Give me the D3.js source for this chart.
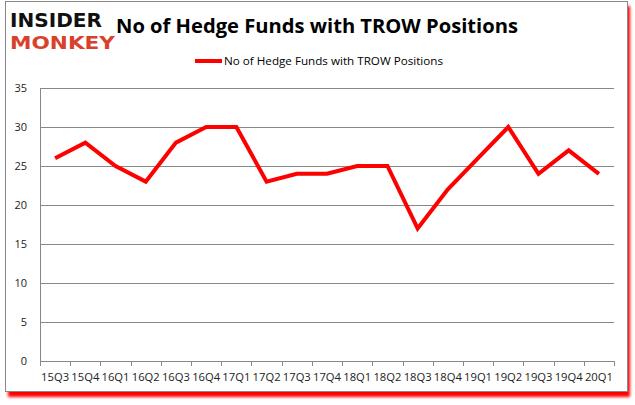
<!DOCTYPE html>
<html>
<head>
<meta charset="utf-8">
<script src="https://cdn.jsdelivr.net/npm/d3@7"></script>
<style>
  body { margin: 0; background: #fff; }
  svg { display: block; }
</style>
</head>
<body>
<div id="chart"></div>
<script>
// quarters on the x axis
var quarters = ["15Q3", "15Q4", "16Q1", "16Q2", "16Q3", "16Q4", "17Q1", "17Q2", "17Q3", "17Q4",
                "18Q1", "18Q2", "18Q3", "18Q4", "19Q1", "19Q2", "19Q3", "19Q4", "20Q1"];
// number of hedge funds per quarter
var fundCounts = [26, 28, 25, 23, 28, 30, 30, 23, 24, 24, 25, 25, 17, 22, 26, 30, 24, 27, 24];
var yTicks = [0, 5, 10, 15, 20, 25, 30, 35];

var seriesName = "No of Hedge Funds with TROW Positions";
var titleText = "No of Hedge Funds with TROW Positions";

var W = 635, H = 405;
var margin = {top: 88, right: 21, bottom: 44, left: 40},
    width = W - margin.left - margin.right,
    height = H - margin.top - margin.bottom;

var svg = d3.select("#chart").append("svg")
    .attr("width", W)
    .attr("height", H);

// red shadow behind the frame
var defs = svg.append("defs");
var blur = defs.append("filter").attr("id", "shadow")
    .attr("x", "-5%").attr("y", "-5%").attr("width", "110%").attr("height", "115%");
blur.append("feGaussianBlur").attr("stdDeviation", 1.6);

svg.append("rect")
    .attr("x", 8).attr("y", 6).attr("width", 622).attr("height", 391)
    .attr("fill", "#ff0000")
    .attr("filter", "url(#shadow)");
svg.append("rect")
    .attr("x", 5.5).attr("y", 1.5).attr("width", 622).attr("height", 390)
    .attr("fill", "#fff")
    .attr("stroke", "#888")
    .attr("stroke-width", 1);

// logo
svg.append("text")
    .attr("x", 10).attr("y", 27)
    .attr("textLength", 92).attr("lengthAdjust", "spacingAndGlyphs")
    .style("font-family", "'DejaVu Sans', sans-serif")
    .style("font-weight", "bold")
    .style("font-size", "19px")
    .attr("fill", "#111")
    .text("INSIDER");
svg.append("text")
    .attr("x", 10).attr("y", 49)
    .attr("textLength", 105).attr("lengthAdjust", "spacingAndGlyphs")
    .style("font-family", "'DejaVu Sans', sans-serif")
    .style("font-weight", "bold")
    .style("font-size", "18px")
    .attr("fill", "#d8412c")
    .text("MONKEY");

// title
svg.append("text")
    .attr("x", 116).attr("y", 33)
    .attr("textLength", 402).attr("lengthAdjust", "spacingAndGlyphs")
    .style("font-family", "'Open Sans', sans-serif")
    .style("font-weight", "bold")
    .style("font-size", "20px")
    .attr("fill", "#000")
    .text(titleText);

// legend
svg.append("line")
    .attr("x1", 195).attr("x2", 222).attr("y1", 61).attr("y2", 61)
    .attr("stroke", "#ff0000").attr("stroke-width", 4);
svg.append("text")
    .attr("x", 224).attr("y", 65)
    .attr("textLength", 219).attr("lengthAdjust", "spacingAndGlyphs")
    .style("font-family", "'Open Sans', sans-serif")
    .style("font-size", "11px")
    .attr("fill", "#000")
    .text(seriesName);

var g = svg.append("g")
    .attr("transform", "translate(" + margin.left + "," + margin.top + ")");

var xScale = d3.scaleBand()
    .domain(quarters)
    .range([0, width]);

var yScale = d3.scaleLinear()
    .domain([0, 35])
    .range([height, 0]);

// gridlines
g.append("g")
    .selectAll("line")
    .data(yTicks.filter(function(d) { return d > 0; }))
    .enter().append("line")
    .attr("x1", 0).attr("x2", width)
    .attr("y1", function(d) { return Math.round(yScale(d)) + 0.5; })
    .attr("y2", function(d) { return Math.round(yScale(d)) + 0.5; })
    .attr("stroke", "#888")
    .attr("stroke-width", 1);

// y axis
var yAxis = g.append("g")
    .call(d3.axisLeft(yScale).tickValues(yTicks).tickSize(0).tickPadding(13));
yAxis.select(".domain").attr("stroke", "#888");
yAxis.selectAll("text")
    .style("font-family", "'Open Sans', sans-serif")
    .style("font-size", "11px")
    .attr("fill", "#222");

// x axis, ticks at the category boundaries
var xAxis = g.append("g")
    .attr("transform", "translate(0," + height + ")")
    .call(d3.axisBottom(xScale).tickSize(0).tickPadding(12));
xAxis.select(".domain").attr("stroke", "#888");
xAxis.selectAll("text")
    .style("font-family", "'Open Sans', sans-serif")
    .style("font-size", "11px")
    .attr("textLength", 28).attr("lengthAdjust", "spacingAndGlyphs")
    .attr("fill", "#222");

xAxis.selectAll(".boundary")
    .data(quarters.concat(["end"]))
    .enter().append("line")
    .attr("class", "boundary")
    .attr("x1", function(d, i) { return Math.round(i * xScale.step()) + 0.5; })
    .attr("x2", function(d, i) { return Math.round(i * xScale.step()) + 0.5; })
    .attr("y1", 0).attr("y2", 5)
    .attr("stroke", "#888");

// the line
var line = d3.line()
    .x(function(d, i) { return xScale(quarters[i]) + xScale.bandwidth() / 2; })
    .y(function(d) { return yScale(d); });

g.append("path")
    .datum(fundCounts)
    .attr("fill", "none")
    .attr("stroke", "#ff0000")
    .attr("stroke-width", 4)
    .attr("stroke-linejoin", "miter")
    .attr("d", line);
</script>
</body>
</html>
